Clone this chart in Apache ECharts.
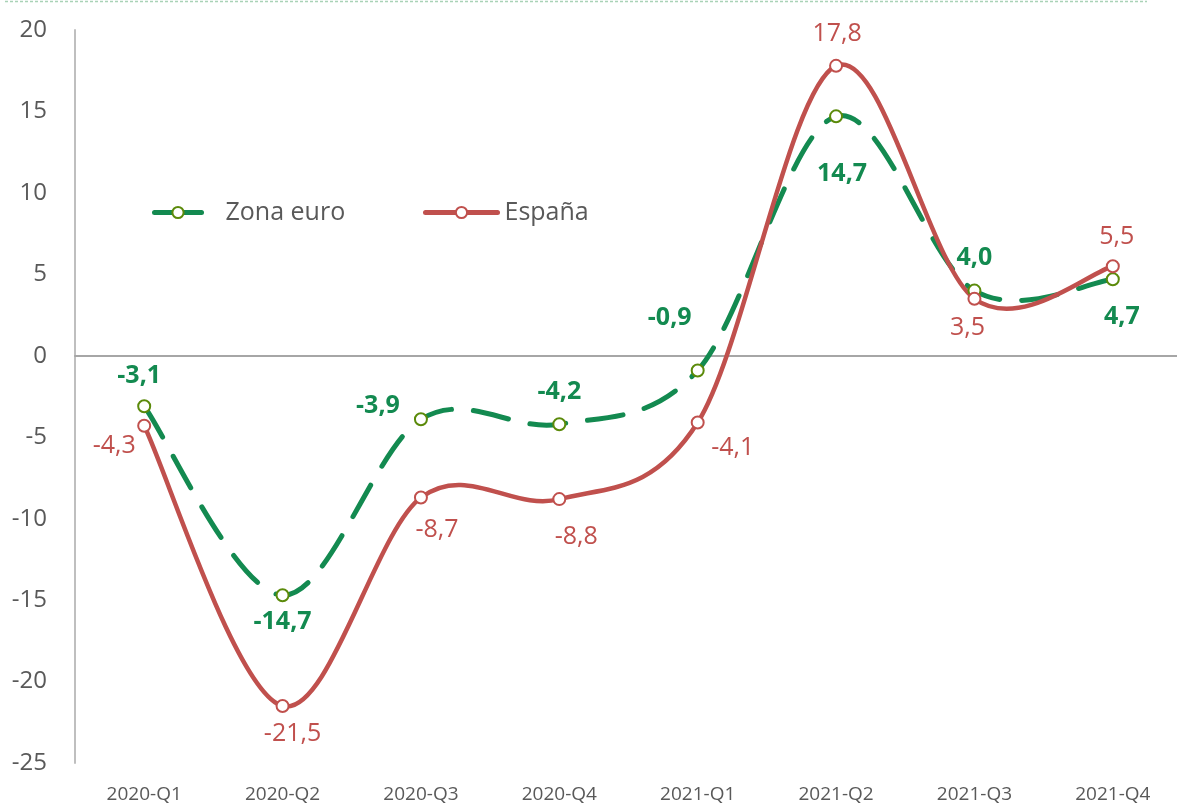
<!DOCTYPE html>
<html>
<head>
<meta charset="utf-8">
<script src="https://cdn.jsdelivr.net/npm/echarts@6/dist/echarts.min.js"></script>
<style>
html,body{margin:0;padding:0;background:#fff;}
#chart{width:1177px;height:805px;}
</style>
</head>
<body>
<div id="chart"></div>
<script>
// ---- data ----
const categories = ['2020-Q1','2020-Q2','2020-Q3','2020-Q4','2021-Q1','2021-Q2','2021-Q3','2021-Q4'];
const zonaEuro = [-3.1, -14.7, -3.9, -4.2, -0.9, 14.7, 4.0, 4.7];
const espana = [-4.3, -21.5, -8.7, -8.8, -4.1, 17.8, 3.5, 5.5];
const yMin = -25, yMax = 20, yStep = 5;
const seriesNames = ['Zona euro', 'España'];

// ---- styling (label placement offsets, px) ----
const greenOffsets = [[-5,-30],[0,27],[-43,-13],[0,-32],[-28,-53],[6,58],[0,-33],[9,38]];
const redOffsets = [[-30,20],[10,28],[16,32],[17,38],[35,25],[1,-32],[-7,29],[4,-29]];

const GREEN = '#138A50', GREEN_MK = '#5B8A0A', RED = '#C0504D', GREY = '#595959';
const FONT = '"Open Sans", sans-serif';
const fmt = v => v.toFixed(1).replace('.', ',');

// Excel-style smoothed curve (Catmull-Rom through points placed by the axes)
function smoothSeries(values, stroke, width, dash) {
  return {
    type: 'custom', silent: true, xAxisIndex: 0, yAxisIndex: 0,
    data: values.map((v, i) => [i, v]),
    encode: { x: 0, y: 1 },
    renderItem: function (params, api) {
      if (params.dataIndex !== 0) return null;
      const pts = values.map((v, i) => api.coord([i, v]));
      let d = 'M' + pts[0][0] + ',' + pts[0][1];
      for (let i = 0; i < pts.length - 1; i++) {
        const p0 = pts[i - 1] || pts[i], p1 = pts[i], p2 = pts[i + 1], p3 = pts[i + 2] || pts[i + 1];
        const c1 = [p1[0] + (p2[0] - p0[0]) / 6, p1[1] + (p2[1] - p0[1]) / 6];
        const c2 = [p2[0] - (p3[0] - p1[0]) / 6, p2[1] - (p3[1] - p1[1]) / 6];
        d += ' C' + c1[0] + ',' + c1[1] + ' ' + c2[0] + ',' + c2[1] + ' ' + p2[0] + ',' + p2[1];
      }
      return {
        type: 'path',
        shape: { pathData: d },
        style: { fill: 'none', stroke: stroke, lineWidth: width, lineDash: dash || null, lineCap: 'round', lineJoin: 'round' }
      };
    }
  };
}

const chart = echarts.init(document.getElementById('chart'));
chart.setOption({
  animation: false,
  textStyle: { fontFamily: FONT },
  grid: { left: 75, top: 30, bottom: 42, width: 1107, containLabel: false, outerBoundsMode: 'none' },
  graphic: [{
    type: 'line', silent: true,
    shape: { x1: 5, y1: 1.5, x2: 1147, y2: 1.5 },
    style: { stroke: '#A9D2B6', lineWidth: 1.5, lineDash: [3, 2] }
  }],
  legend: [{
    data: [seriesNames[0]], left: 147, top: 195, itemWidth: 47, itemHeight: 14,
    lineStyle: { type: 'solid', width: 5, cap: 'round', opacity: 1 },
    textStyle: { fontSize: 25, color: GREY, fontFamily: FONT, padding: [0,0,0,19] }
  }, {
    data: [seriesNames[1]], left: 418, top: 195, itemWidth: 72, itemHeight: 14,
    lineStyle: { width: 5, cap: 'round', opacity: 1 },
    textStyle: { fontSize: 25, color: GREY, fontFamily: FONT, padding: [0,0,0,2] }
  }],
  xAxis: [{
    type: 'category', data: categories, boundaryGap: true, position: 'bottom',
    axisLine: { show: false, onZero: false }, axisTick: { show: false },
    axisLabel: { fontSize: 19, color: GREY, margin: 22, fontFamily: FONT }
  }, {
    type: 'category', data: categories, boundaryGap: true, position: 'top',
    axisLine: { show: true, onZero: true, lineStyle: { color: '#A6A6A6', width: 2 } },
    axisTick: { show: false }, axisLabel: { show: false }
  }],
  yAxis: {
    type: 'value', min: yMin, max: yMax, interval: yStep,
    axisLine: { show: true, onZero: false, lineStyle: { color: '#BFBFBF', width: 2 } },
    axisTick: { show: false }, splitLine: { show: false },
    axisLabel: { fontSize: 24, color: GREY, margin: 28, fontFamily: FONT }
  },
  series: [
    smoothSeries(zonaEuro, GREEN, 5, [36, 22]),
    {
      name: seriesNames[0], type: 'line', xAxisIndex: 0,
      symbol: 'circle', symbolSize: 12,
      lineStyle: { color: GREEN, width: 5, type: [36, 22], cap: 'round', opacity: 0 },
      itemStyle: { color: '#fff', borderColor: GREEN_MK, borderWidth: 2 },
      label: { show: true, position: 'inside', fontSize: 25, fontWeight: 'bold', color: GREEN,
               fontFamily: FONT, formatter: p => fmt(p.value) },
      data: zonaEuro.map((v, i) => ({ value: v, label: { offset: greenOffsets[i] } }))
    },
    smoothSeries(espana, RED, 4.5, null),
    {
      name: seriesNames[1], type: 'line', xAxisIndex: 0,
      symbol: 'circle', symbolSize: 12,
      lineStyle: { color: RED, width: 4.5, cap: 'round', opacity: 0 },
      itemStyle: { color: '#fff', borderColor: RED, borderWidth: 2 },
      label: { show: true, position: 'inside', fontSize: 25, color: RED,
               fontFamily: FONT, formatter: p => fmt(p.value) },
      data: espana.map((v, i) => ({ value: v, label: { offset: redOffsets[i] } }))
    }
  ]
});
</script>
</body>
</html>
